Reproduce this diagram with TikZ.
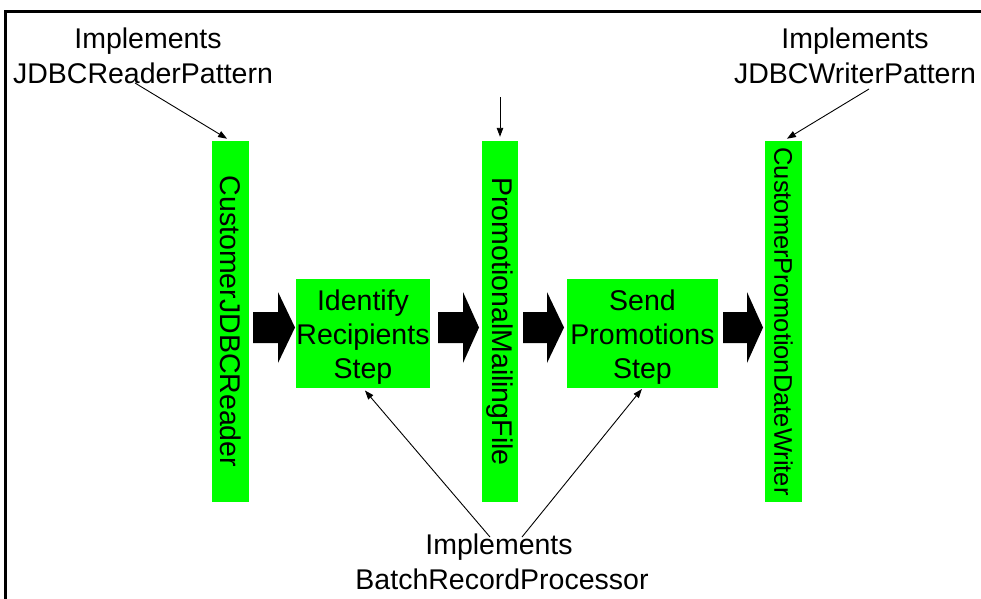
\documentclass[tikz,border=0pt]{standalone}
\usepackage{fontspec}
\usepackage{graphicx}
\setmainfont{Liberation Sans}
\usetikzlibrary{arrows.meta,calc}
\definecolor{brightgreen}{RGB}{0,255,0}
\begin{document}
\begin{tikzpicture}[x=1pt,y=-1pt,
  bigfont/.style={font=\fontsize{28.5}{34}\selectfont},
  greenbar/.style={fill=brightgreen, inner sep=0pt, minimum width=37pt, minimum height=361pt, bigfont},
  stepbox/.style={fill=brightgreen, inner sep=0pt, minimum height=109pt, align=center, bigfont},
  lbl/.style={anchor=base, inner sep=0pt, bigfont},
  ptr/.style={-{Triangle[length=9pt,width=6.5pt]}, line width=0.9pt},
  blockarrow/.style={fill=black}]
\useasboundingbox (0,0) rectangle (981,598);
\clip (0,0) rectangle (981,598);
% frame (cropped)
\draw[line width=3pt] (5.5,620) -- (5.5,11.5) -- (1000,11.5);

% main nodes
\node[greenbar] (cjr) at (230.5,321.5) {\rotatebox{-90}{CustomerJDBCReader}};
\node[stepbox, minimum width=134pt] (irs) at (363,333.5) {\rule{0pt}{28pt}Identify\\Recipients\\Step};
\node[greenbar, minimum width=36pt] (pmf) at (500,321.5) {\rotatebox{-90}{PromotionalMailingFile}};
\node[stepbox, minimum width=151pt] (sps) at (642.5,333.5) {\rule{0pt}{28pt}Send\\Promotions\\Step};
\node[greenbar, font=\fontsize{25.5}{30}\selectfont] (cpw) at (783.5,321.5) {\rotatebox{-90}{CustomerPromotionDateWriter}};

% block arrows
\newcommand\blockarr[3]{\fill[blockarrow] (#1,312) -- (#2,312) -- (#2,292) -- (#3,327.5) -- (#2,363) -- (#2,343) -- (#1,343) -- cycle;}
\blockarr{253}{278}{295}
\blockarr{438}{463}{479}
\blockarr{523}{547}{564}
\blockarr{723}{747}{763}

% labels
\node[lbl] (l1a) at (148,48) {Implements};
\node[lbl] (l1b) at (143,83) {JDBCReaderPattern};
\node[lbl] (r1a) at (855,48) {Implements};
\node[lbl] (r1b) at (855,83) {JDBCWriterPattern};
\node[lbl] (b1a) at (499,554) {Implements};
\node[lbl] (b1b) at (502,589) {BatchRecordProcessor};
\coordinate (mtop) at (500,97);

% pointers
\draw[ptr, shorten >=4pt] ($(l1b.base)+(-8,0)$) -- (cjr.north);
\draw[ptr, shorten >=4pt] (mtop) -- (pmf.north);
\draw[ptr, shorten >=4pt] ($(r1b.base)+(14,6)$) -- (cpw.north);
\draw[ptr, shorten >=3pt] ($(b1a.base)+(-9,-17)$) -- (irs.south);
\draw[ptr, shorten >=1pt] ($(b1a.base)+(23,-17)$) -- (sps.south);
\end{tikzpicture}
\end{document}
